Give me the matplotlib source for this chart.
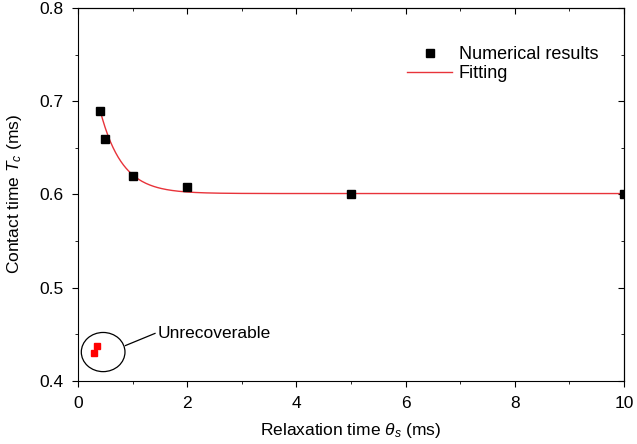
import matplotlib.pyplot as plt
import numpy as np
from matplotlib.patches import Ellipse
from matplotlib.ticker import MultipleLocator

plt.rcParams['font.family'] = ['Liberation Sans', 'DejaVu Sans']
plt.rcParams['mathtext.fontset'] = 'custom'
plt.rcParams['mathtext.rm'] = 'Liberation Sans'
plt.rcParams['mathtext.it'] = 'Liberation Sans:italic'

# Numerical results (relaxation time in ms, contact time in ms)
relax_time = [0.4, 0.5, 1.0, 2.0, 5.0, 10.0]
contact_time = [0.690, 0.660, 0.620, 0.608, 0.600, 0.600]

# Unrecoverable cases
unrec_time = [0.30, 0.35]
unrec_contact = [0.430, 0.438]

# Exponential fit y = y0 + A * exp(-x / t)
fit_y0 = 0.601
fit_A = 0.245
fit_t = 0.40
fit_x_start = 0.4
fit_x_end = 10.0

FS = 12.5

fig = plt.figure(figsize=(6.37, 4.44), dpi=100)
ax = fig.add_axes([0.1225, 0.142, 0.857, 0.840])

X = np.linspace(fit_x_start, fit_x_end, 400)
ax.plot(X, fit_y0 + fit_A * np.exp(-X / fit_t), color="#e8333a", lw=1.0, label="Fitting", zorder=2)
ax.plot(relax_time, contact_time, "s", color="black", ms=6, label="Numerical results", zorder=3)
ax.plot(unrec_time, unrec_contact, "s", color="red", ms=4.5, zorder=3)

ax.add_patch(Ellipse((0.46, 0.431), 0.80, 0.042, fill=False, ec="black", lw=0.9))
ax.plot([0.87, 1.41], [0.438, 0.451], color="black", lw=0.9)
ax.text(1.45, 0.451, "Unrecoverable", fontsize=FS, va="center", ha="left")

ax.set_xlim(0, 10)
ax.set_ylim(0.4, 0.8)
ax.xaxis.set_major_locator(MultipleLocator(2))
ax.xaxis.set_minor_locator(MultipleLocator(1))
ax.yaxis.set_major_locator(MultipleLocator(0.1))
ax.yaxis.set_minor_locator(MultipleLocator(0.05))
ax.tick_params(which="both", direction="out", labelsize=FS)
ax.tick_params(which="major", length=4)
ax.tick_params(which="minor", length=2.5)
ax.tick_params(axis="x", which="major", pad=7)
ax.tick_params(axis="y", which="major", pad=6.4)

# mirrored ticks pointing inwards on top and right
top = ax.secondary_xaxis("top")
top.xaxis.set_major_locator(MultipleLocator(2))
top.xaxis.set_minor_locator(MultipleLocator(1))
top.tick_params(which="both", direction="in", labeltop=False)
top.tick_params(which="major", length=4)
top.tick_params(which="minor", length=2.5)
right = ax.secondary_yaxis("right")
right.yaxis.set_major_locator(MultipleLocator(0.1))
right.yaxis.set_minor_locator(MultipleLocator(0.05))
right.tick_params(which="both", direction="in", labelright=False)
right.tick_params(which="major", length=4)
right.tick_params(which="minor", length=2.5)

ax.set_xlabel(r"Relaxation time $\theta_s$ (ms)", fontsize=FS, labelpad=6.7)
ax.set_ylabel(r"Contact time $T_c$ (ms)", fontsize=FS, labelpad=11)

handles, labels = ax.get_legend_handles_labels()
ax.legend(handles[::-1], labels[::-1], loc="upper left", bbox_to_anchor=(0.59, 0.917),
          borderaxespad=0, frameon=False, fontsize=FS + 0.5,
          handlelength=2.5, handletextpad=0.35, labelspacing=0.1)

fig.savefig("out.png", dpi=100)
